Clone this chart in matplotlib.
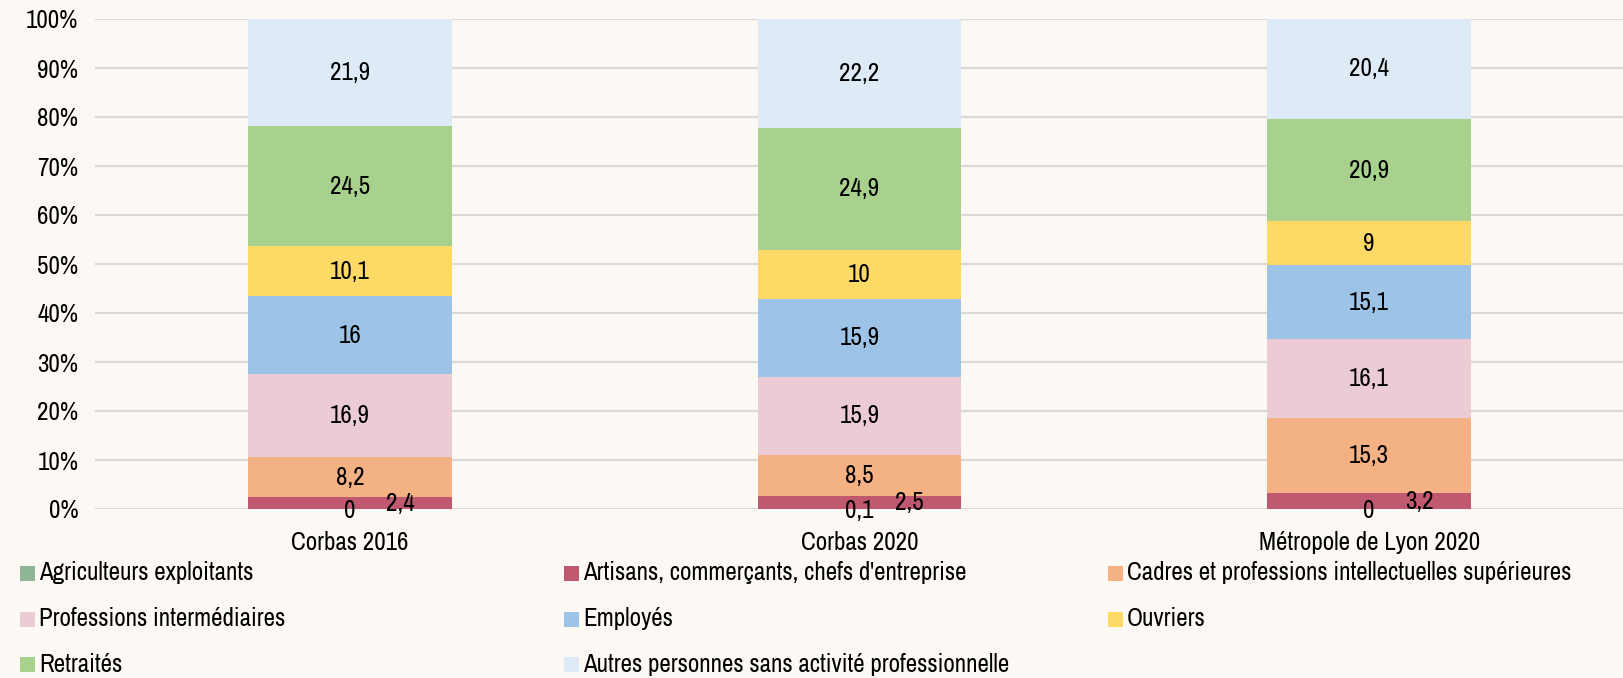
import matplotlib
matplotlib.use("Agg")
import matplotlib.pyplot as plt
from matplotlib.patches import Rectangle
from matplotlib import font_manager
import numpy as np

# ---- Data
categories = ["Corbas 2016", "Corbas 2020", "Métropole de Lyon 2020"]
series_names = [
    "Agriculteurs exploitants",
    "Artisans, commerçants, chefs d'entreprise",
    "Cadres et professions intellectuelles supérieures",
    "Professions intermédiaires",
    "Employés",
    "Ouvriers",
    "Retraités",
    "Autres personnes sans activité professionnelle",
]
agriculteurs = [0, 0.1, 0]
artisans = [2.4, 2.5, 3.2]
cadres = [8.2, 8.5, 15.3]
prof_inter = [16.9, 15.9, 16.1]
employes = [16, 15.9, 15.1]
ouvriers = [10.1, 10, 9]
retraites = [24.5, 24.9, 20.9]
autres = [21.9, 22.2, 20.4]
yticks = [0, 10, 20, 30, 40, 50, 60, 70, 80, 90, 100]

series = [agriculteurs, artisans, cadres, prof_inter, employes, ouvriers, retraites, autres]
colors = ["#8db596", "#c0596f", "#f4b183", "#ebcbd4", "#9dc3e6", "#ffd966", "#a9d18e", "#deebf7"]
BG = "#fcf9f5"

# narrow sans like the original Arial Narrow, if one is around
fams = {f.name for f in font_manager.fontManager.ttflist}
font = "Liberation Sans"
for cand in ["Liberation Sans Narrow", "Arial Narrow", "Archivo Narrow", "PT Sans Narrow",
             "Roboto Condensed", "Open Sans Condensed"]:
    if cand in fams:
        font = cand
        break
plt.rcParams["font.family"] = [font, "DejaVu Sans"]
FS = 18 if font != "Liberation Sans" else 15.5

W, H = 1624, 678
fig = plt.figure(figsize=(W / 100, H / 100), dpi=100, facecolor=BG)
ax = fig.add_axes([95 / W, (H - 509) / H, (W - 95) / W, (509 - 19) / H])
ax.set_facecolor(BG)

x = np.arange(len(categories))
bottom = np.zeros(len(categories))
for name, vals, col in zip(series_names, series, colors):
    vals = np.array(vals, dtype=float)
    ax.bar(x, vals, 0.4, bottom=bottom, color=col, zorder=2)
    for xi, b, v in zip(x, bottom, vals):
        txt = f"{v:g}".replace(".", ",")
        dx = 50 if name.startswith("Artisans") else 0
        dy = -2 if name.startswith("Agric") else 0
        ax.annotate(txt, (xi, b + v / 2), xytext=(dx * 0.72, dy * 0.72), textcoords="offset points",
                    ha="center", va="center", fontsize=FS, color="black", zorder=3)
    bottom += vals

ax.set_xlim(-0.5, len(categories) - 0.5)
ax.set_ylim(0, 100)
ax.set_yticks(yticks, [f"{t}%" for t in yticks])
ax.set_xticks(x, categories)
ax.tick_params(length=0, labelsize=FS)
ax.tick_params(axis="x", pad=16)
ax.tick_params(axis="y", pad=12)
ax.grid(axis="y", color="#d9d9d9", linewidth=1.6, zorder=0)
for s in ax.spines.values():
    s.set_visible(False)

# ---- Legend, row-major in three columns
col_x = [20, 564, 1108]
row_y = [573, 619, 664]
sq = 15
for i, (name, col) in enumerate(zip(series_names, colors)):
    cx = col_x[i % 3]
    cy = row_y[i // 3]
    fig.patches.append(Rectangle((cx / W, (H - cy - sq / 2) / H), sq / W, sq / H,
                                 transform=fig.transFigure, facecolor=col, edgecolor="none"))
    fig.text((cx + sq + 4) / W, (H - cy) / H, name, ha="left", va="center", fontsize=FS)

fig.savefig("out.png", dpi=100, facecolor=BG)
